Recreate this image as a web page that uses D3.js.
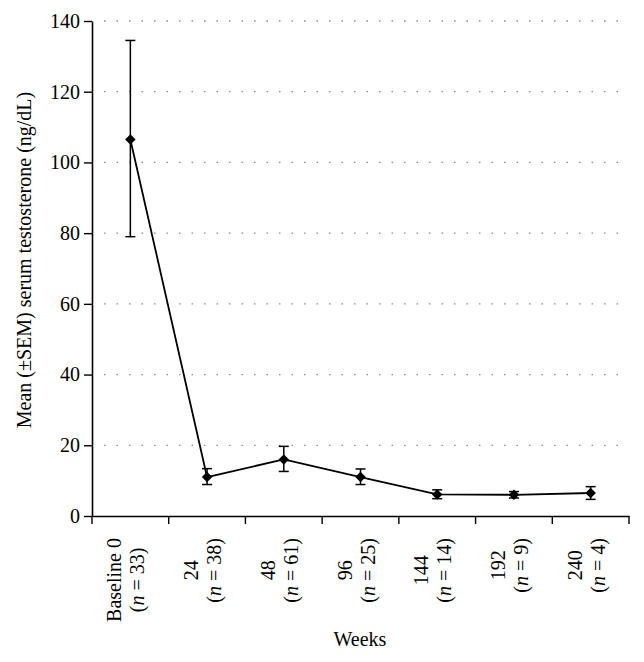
<!DOCTYPE html>
<html><head><meta charset="utf-8">
<script src="https://cdn.jsdelivr.net/npm/d3@7"></script>
<style>body{margin:0;background:#fff}</style>
</head><body>
<svg id="c" width="644" height="662"></svg>
<script>
const weeks = ["Baseline 0","24","48","96","144","192","240"];
const nVals = ["33","38","61","25","14","9","4"];
const means = [106.5, 11.0, 16.0, 11.0, 6.1, 6.0, 6.5];
const errUp = [134.5, 13.4, 19.7, 13.3, 7.4, 6.9, 8.3];
const errLo = [79.0, 8.9, 12.6, 8.9, 4.9, 5.1, 4.7];
const yTicks = [0,20,40,60,80,100,120,140];

(function(){
const font = "'Liberation Serif', 'Times New Roman', serif";
const svg = d3.select("#c");
const m = {l:92, r:629, t:21, b:516};
const x = d3.scaleBand().domain(weeks).range([m.l, m.r]);
const y = d3.scaleLinear().domain([0,140]).range([m.b, m.t]);

// grid
svg.append("g").selectAll("line").data(yTicks.filter(d=>d>0)).join("line")
  .attr("x1", m.l+12).attr("x2", m.r).attr("y1", d=>y(d)).attr("y2", d=>y(d))
  .attr("stroke","#888").attr("stroke-width",1.3).attr("stroke-dasharray","1.5,11");

// y axis
const ya = svg.append("g").attr("transform",`translate(${m.l},0)`)
  .call(d3.axisLeft(y).tickValues(yTicks).tickSize(8).tickPadding(4).tickSizeOuter(0));
ya.select(".domain").attr("stroke","#000").attr("stroke-width",1.6);
ya.selectAll(".tick line").attr("stroke","#000").attr("stroke-width",1.4);
ya.selectAll("text").attr("font-family",font).attr("font-size",20).attr("fill","#000");

// x axis
const xa = svg.append("g").attr("transform",`translate(0,${m.b})`)
  .call(d3.axisBottom(x).tickSize(0).tickFormat(""));
xa.select(".domain").attr("stroke","#000").attr("stroke-width",1.6);
const bounds = weeks.map(w=>x(w)).concat([m.r]);
svg.append("g").selectAll("line").data(bounds).join("line")
  .attr("x1",d=>d).attr("x2",d=>d).attr("y1",m.b).attr("y2",m.b+8)
  .attr("stroke","#000").attr("stroke-width",1.4);

// x labels
const labTop = 538;
weeks.forEach((w,i)=>{
  const cx = x(w) + x.bandwidth()/2;
  const g = svg.append("g");
  const t1 = g.append("text").attr("font-family",font).attr("font-size",20).text(w);
  const t2 = g.append("text").attr("font-family",font).attr("font-size",20);
  t2.append("tspan").text("(");
  t2.append("tspan").attr("font-style","italic").text("n");
  t2.append("tspan").text(" = " + nVals[i] + ")");
  const L = Math.max(t1.node().getComputedTextLength(), t2.node().getComputedTextLength());
  const cy = labTop + L/2;
  t1.attr("text-anchor","middle").attr("transform",`translate(${cx-9},${cy}) rotate(-90)`);
  t2.attr("text-anchor","middle").attr("transform",`translate(${cx+14},${cy}) rotate(-90)`);
});

// titles
svg.append("text").attr("font-family",font).attr("font-size",20).attr("text-anchor","middle")
  .attr("transform",`translate(31,260) rotate(-90)`).text("Mean (±SEM) serum testosterone (ng/dL)");
svg.append("text").attr("font-family",font).attr("font-size",20).attr("text-anchor","middle")
  .attr("x",360).attr("y",646).text("Weeks");

const cxs = weeks.map(w=>x(w)+x.bandwidth()/2);
// error bars
const eg = svg.append("g").attr("stroke","#000").attr("stroke-width",1.5);
weeks.forEach((w,i)=>{
  eg.append("line").attr("x1",cxs[i]).attr("x2",cxs[i]).attr("y1",y(errUp[i])).attr("y2",y(errLo[i]));
  [errUp[i],errLo[i]].forEach(v=>eg.append("line").attr("x1",cxs[i]-5).attr("x2",cxs[i]+5).attr("y1",y(v)).attr("y2",y(v)));
});
// line
svg.append("path").datum(means).attr("fill","none").attr("stroke","#000").attr("stroke-width",1.8)
  .attr("d", d3.line().x((d,i)=>cxs[i]).y(d=>y(d)));
// markers
svg.append("g").selectAll("path").data(means).join("path")
  .attr("transform",(d,i)=>`translate(${cxs[i]},${y(d)})`)
  .attr("d", d3.symbol(d3.symbolDiamond2, 70)).attr("fill","#000");
})();
</script>
</body></html>
